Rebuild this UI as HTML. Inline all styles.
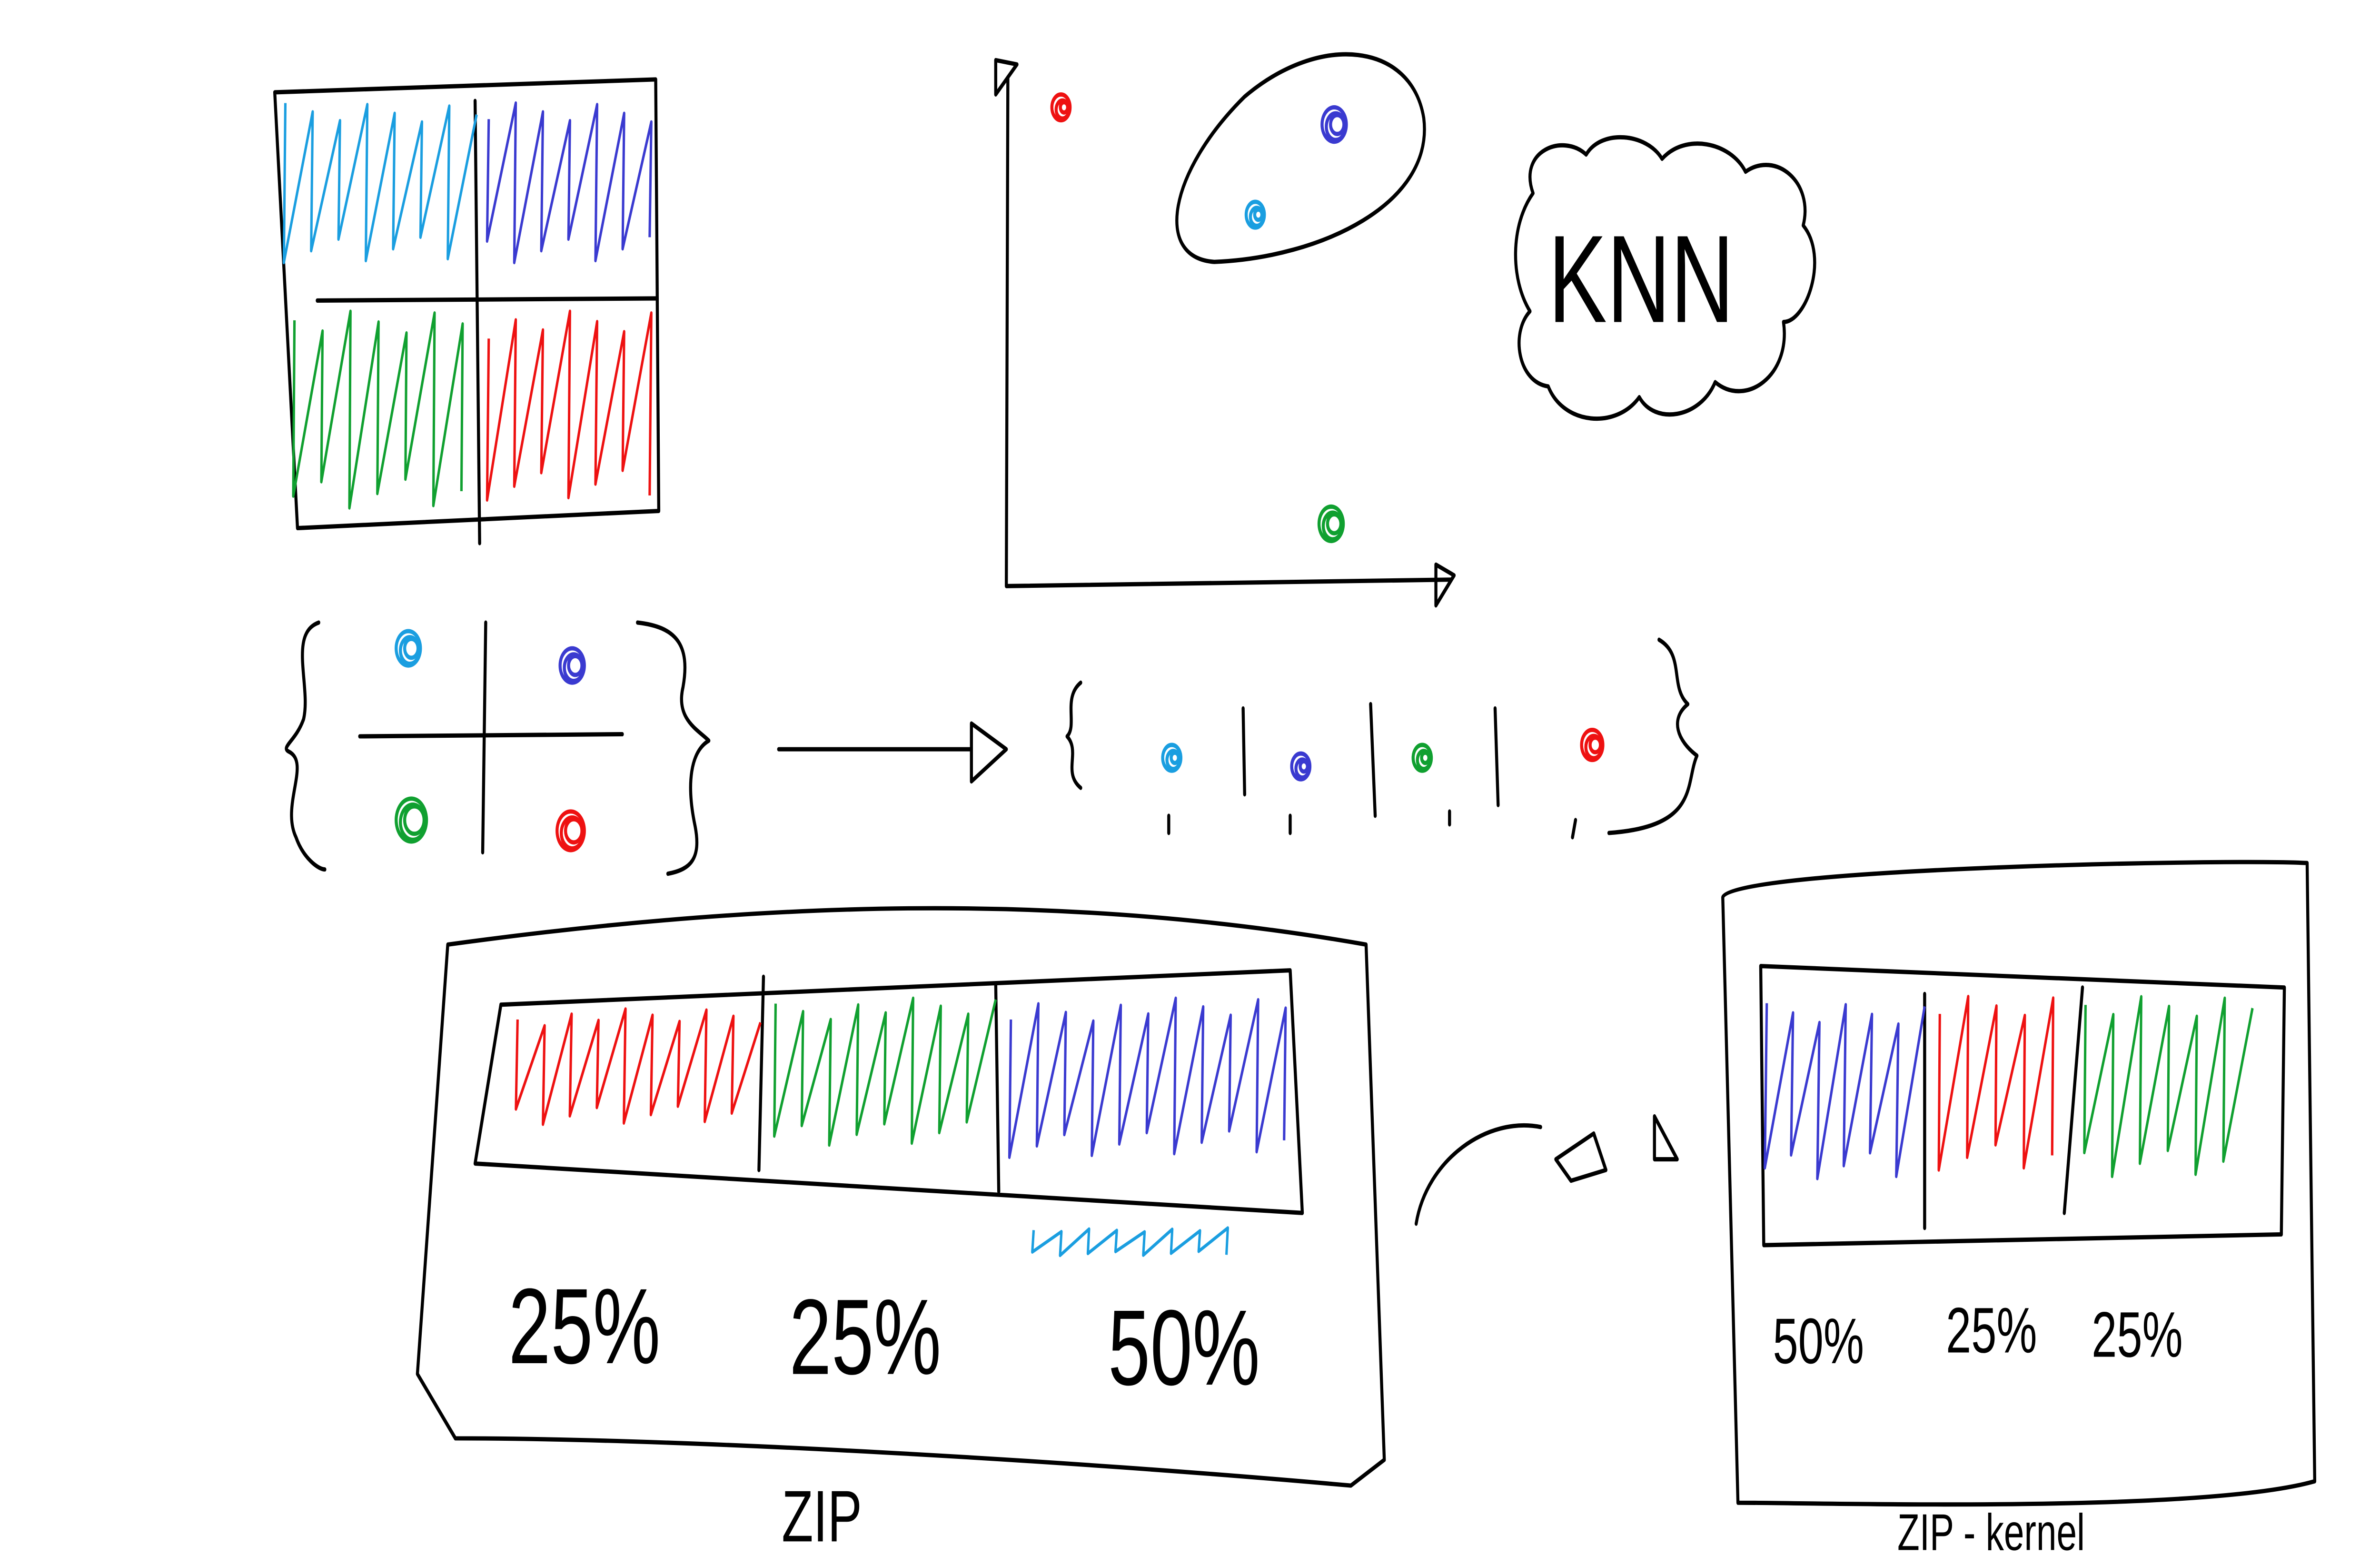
<!DOCTYPE html>
<html><head><meta charset="utf-8">
<style>
html,body{margin:0;padding:0;background:#fff;width:100%;height:100%;overflow:hidden}
svg{display:block;position:fixed;left:0;top:0;width:100vw;height:100vh}
text{font-family:"Liberation Sans",sans-serif;fill:#000}
</style></head>
<body>
<svg id="s" viewBox="0 0 1568 729" preserveAspectRatio="none" xmlns="http://www.w3.org/2000/svg">
<g fill="none" stroke="#000" stroke-width="2" stroke-linecap="round" stroke-linejoin="round">
  <g>
    <path d="M181,43 L432,37 L434,238 L196,246 Z"/>
    <path d="M313,47 L316,253"/>
    <path d="M209,140 L433,139"/>
  </g>
  <g>
    <path d="M664,36 L663,273 L956,270"/>
    <path d="M656,28 L670,30 L656,44 Z"/>
    <path d="M946,263 L958,268 L946,282 Z"/>
    <path d="M800,122 C760,120 770,80 820,45 C870,15 930,20 938,55 C945,95 870,120 800,122 Z"/>
  </g>
  <path d="M1010,90 C1000,70 1030,62 1045,72 C1055,60 1085,62 1095,74 C1110,62 1140,66 1150,80 C1170,70 1195,85 1188,105 C1205,120 1190,150 1175,150 C1180,175 1150,190 1130,178 C1120,195 1090,198 1080,185 C1065,200 1030,198 1020,180 C1000,178 995,155 1008,145 C995,130 995,105 1010,90 Z"/>
  <g>
    <path d="M210,290 C190,295 205,320 200,335 C195,345 185,348 190,350 C205,355 185,375 195,390 C200,400 210,405 214,405"/>
    <path d="M420,290 C445,292 455,300 450,320 C445,335 460,340 467,345 C455,350 452,365 458,385 C462,400 455,405 440,407"/>
    <path d="M320,290 L318,397"/><path d="M237,343 L410,342"/>
  </g>
  <path d="M513,349 L640,349"/>
  <path d="M640,337 L663,349 L640,364 Z"/>
  <g>
    <path d="M712,318 C700,325 710,338 703,343 C712,350 700,360 712,367"/>
    <path d="M1093,298 C1110,305 1100,320 1112,328 C1100,335 1105,345 1118,352 C1110,365 1120,385 1060,388"/>
    <path d="M819,330 L820,370"/><path d="M903,328 L906,380"/><path d="M985,330 L987,375"/>
    <path d="M770,380 L770,388"/><path d="M850,380 L850,388"/><path d="M955,378 L955,384"/><path d="M1038,382 L1036,390"/>
  </g>
  <g>
    <path d="M295,440 C500,420 700,415 900,440 L912,680 L890,692 C700,680 450,670 300,670 L275,640 Z"/>
    <path d="M330,468 L850,452 L858,565 L313,542 Z"/>
    <path d="M503,455 L500,545"/><path d="M656,458 L658,555"/>
  </g>
  <path d="M933,570 C940,540 980,520 1015,525"/>
  <path d="M1025,540 L1050,528 L1058,545 L1035,550 Z M1090,520 L1105,540 L1090,540 Z"/>
  <g>
    <path d="M1135,418 C1137,405 1460,400 1520,402 L1525,690 C1450,705 1200,700 1145,700 Z"/>
    <path d="M1160,450 L1505,460 L1503,575 L1162,580 Z"/>
    <path d="M1268,463 L1268,572"/><path d="M1372,460 L1360,565"/>
  </g>
</g>
<g id="scrib" stroke-width="1.6" fill="none" stroke-linejoin="round"></g>
<g id="dots" stroke-width="2" fill="none"></g>
<g>
<text x="1020" y="150" font-size="58">KNN</text>
<text x="335" y="635" font-size="50">25%</text>
<text x="520" y="640" font-size="50">25%</text>
<text x="730" y="645" font-size="50">50%</text>
<text x="515" y="718" font-size="34">ZIP</text>
<text x="1168" y="635" font-size="30">50%</text>
<text x="1282" y="630" font-size="30">25%</text>
<text x="1378" y="632" font-size="30">25%</text>
<text x="1250" y="722" font-size="24">ZIP - kernel</text>
</g>
</svg>
<script>
const scribbles=[
 ['#1a9ee0',182,48,308,125],['#3a3ad0',316,48,432,125],['#10a030',188,145,308,240],['#ee1111',316,145,432,235],
 ['#ee1111',335,470,495,525],['#10a030',505,465,650,535],['#3a3ad0',660,465,850,540],['#1a9ee0',675,572,812,585],
 ['#3a3ad0',1158,465,1262,550],['#ee1111',1272,462,1356,545],['#10a030',1368,462,1478,548]];
const dotsData=[
 ['#ee1111',700,50,6],['#3a3ad0',880,58,8],['#1a9ee0',828,100,6],['#10a030',878,244,8],
 ['#1a9ee0',270,302,8],['#3a3ad0',378,310,8],['#10a030',272,382,10],['#ee1111',377,387,9],
 ['#1a9ee0',773,353,6],['#3a3ad0',858,357,6],['#10a030',938,353,6],['#ee1111',1050,347,7]];
const NS='http://www.w3.org/2000/svg';
const sg=document.getElementById('scrib');
scribbles.forEach((b,i)=>{
 const [c,x0,y0,x1,y1]=b;const n=Math.round((x1-x0)/9);let d='';
 for(let k=0;k<=n;k++){const x=x0+(x1-x0)*k/n;const up=k%2===0;
  const j=((k*37+i*11)%17)/17;
  const y=up?y0+(y1-y0)*0.15*j:y1-(y1-y0)*0.2*j;
  d+=(k?'L':'M')+(x+(up?6:-4)).toFixed(1)+','+y.toFixed(1);}
 const p=document.createElementNS(NS,'path');p.setAttribute('d',d);p.setAttribute('stroke',c);
 
 
 sg.appendChild(p);});
const dg=document.getElementById('dots');
dotsData.forEach(d=>{const [c,x,y,r]=d;
 for(let k=0;k<3;k++){const e=document.createElementNS(NS,'circle');
  e.setAttribute('cx',x+k-1);e.setAttribute('cy',y+(k%2));e.setAttribute('r',r-k*1.8);e.setAttribute('stroke',c);
  
  
  dg.appendChild(e);}});
</script>
</body></html>
